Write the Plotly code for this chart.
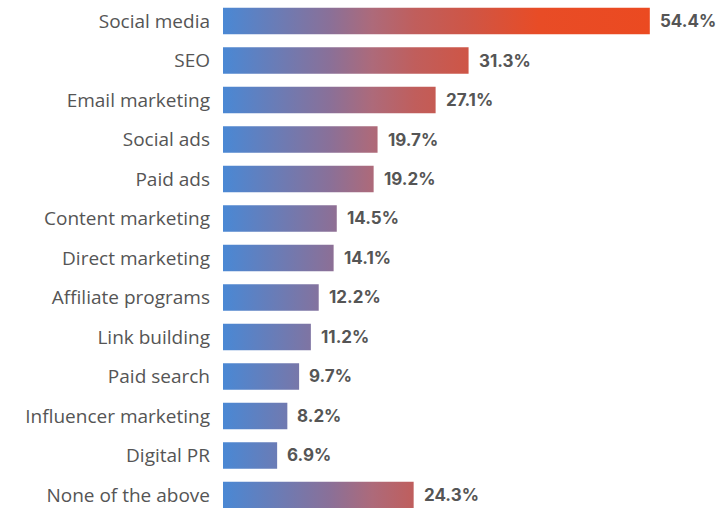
import plotly.graph_objects as go

# Channels and the share of respondents using each one (%)
channels = [
    "Social media", "SEO", "Email marketing", "Social ads", "Paid ads",
    "Content marketing", "Direct marketing", "Affiliate programs",
    "Link building", "Paid search", "Influencer marketing", "Digital PR",
    "None of the above",
]
shares = [54.4, 31.3, 27.1, 19.7, 19.2, 14.5, 14.1, 12.2, 11.2, 9.7, 8.2, 6.9, 24.3]

# Gradient shared by all bars: runs along the value axis, blue to orange-red
gradient = [
    [0.00, "#4a88d4"],
    [0.25, "#8a7098"],
    [0.35, "#ad6a7a"],
    [0.45, "#c05e5c"],
    [0.58, "#cf5545"],
    [0.74, "#e84c26"],
    [1.00, "#eb4a21"],
]
grad_max = max(shares)

BAR_HALF = 0.335
LABEL_COLOR = "#555555"

fig = go.Figure()

for i, v in enumerate(shares):
    fig.add_trace(go.Scatter(
        x=[0, v, v, 0, 0],
        y=[i - BAR_HALF, i - BAR_HALF, i + BAR_HALF, i + BAR_HALF, i - BAR_HALF],
        mode="lines",
        line=dict(width=0),
        fill="toself",
        fillgradient=dict(type="horizontal", colorscale=gradient,
                          start=0, stop=grad_max),
        hoverinfo="skip",
        showlegend=False,
    ))

annotations = [
    dict(x=v, y=i, xref="x", yref="y", text=f"{v}%", showarrow=False,
         xanchor="left", yanchor="middle", xshift=8,
         font=dict(family="Inter, Open Sans, sans-serif", size=17,
                   color=LABEL_COLOR, weight="bold"))
    for i, v in enumerate(shares)
]

fig.update_layout(
    width=722, height=508,
    margin=dict(l=223, r=0, t=0, b=0),
    paper_bgcolor="white", plot_bgcolor="white",
    annotations=annotations,
    xaxis=dict(range=[0, 63.6], visible=False, fixedrange=True),
    yaxis=dict(
        range=[12.33, -0.532],
        tickvals=list(range(len(channels))),
        ticktext=channels,
        showgrid=False, zeroline=False, showline=False, ticks="",
        ticklabelstandoff=12,
        tickfont=dict(family="Open Sans, sans-serif", size=19, color=LABEL_COLOR),
        fixedrange=True,
    ),
)

fig.write_html("out.html")
